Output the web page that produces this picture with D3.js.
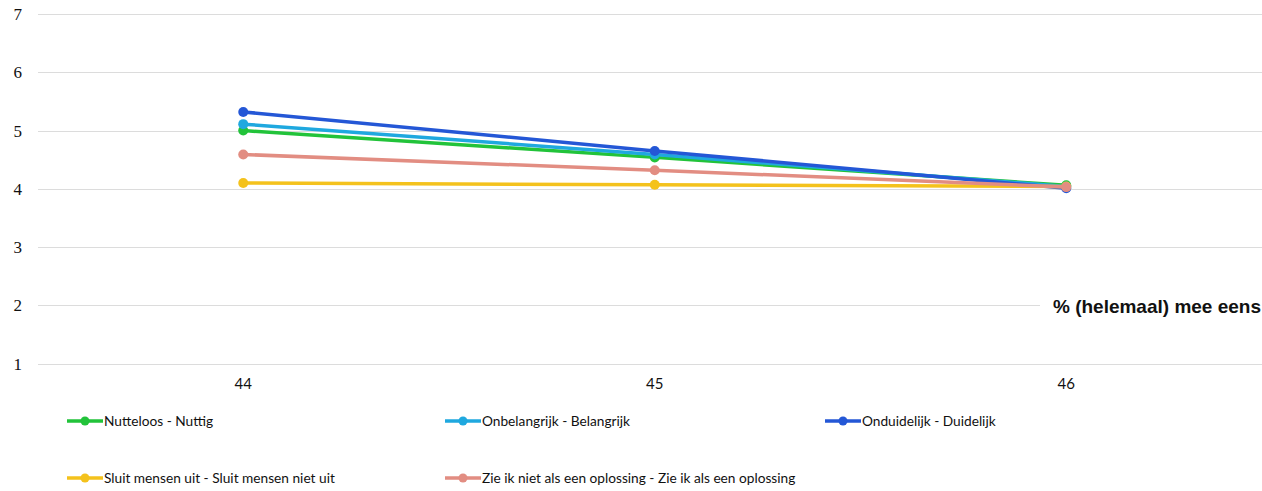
<!DOCTYPE html>
<html>
<head>
<meta charset="utf-8">
<script src="https://cdn.jsdelivr.net/npm/d3@7"></script>
<style>
  html, body { margin: 0; padding: 0; background: #fff; }
  svg { display: block; }
</style>
</head>
<body>
<svg id="chart" width="1262" height="491"></svg>
<script>
// ---- data ----
const categories = ["44", "45", "46"];
const yTicks = [1, 2, 3, 4, 5, 6, 7];
const seriesNames = [
  "Nutteloos - Nuttig",
  "Onbelangrijk - Belangrijk",
  "Onduidelijk - Duidelijk",
  "Sluit mensen uit - Sluit mensen niet uit",
  "Zie ik niet als een oplossing - Zie ik als een oplossing"
];
const nutteloos   = [5.00, 4.54, 4.06];
const onbelangrijk = [5.11, 4.59, 4.04];
const onduidelijk = [5.32, 4.65, 4.01];
const sluitUit    = [4.10, 4.07, 4.04];
const zieIk       = [4.59, 4.32, 4.03];
const seriesColors = ["#22c33a", "#1fa8df", "#2457d6", "#f4c21c", "#e28d82"];
const axisTitle = "% (helemaal) mee eens";

const seriesValues = [nutteloos, onbelangrijk, onduidelijk, sluitUit, zieIk];

// ---- layout ----
const svg = d3.select("#chart");
const W = 1262;
const plotLeft = 37.5, plotRight = 1272;
const x = d3.scalePoint().domain(categories).range([plotLeft, plotRight]).padding(0.5);
const y = d3.scaleLinear().domain([1, 7]).range([363.7, 14]);

// gridlines
svg.append("g").selectAll("line").data(yTicks).join("line")
  .attr("x1", 38).attr("x2", W)
  .attr("y1", d => Math.round(y(d)) + 0.5).attr("y2", d => Math.round(y(d)) + 0.5)
  .attr("stroke", "#dcdcdc").attr("stroke-width", 1.2);

// y tick labels
svg.append("g").selectAll("text").data(yTicks).join("text")
  .attr("x", 22).attr("y", d => y(d)).attr("dy", "0.35em")
  .attr("text-anchor", "end")
  .attr("font-family", "'Liberation Serif', 'DejaVu Serif', serif")
  .attr("font-size", 17).attr("fill", "#111")
  .text(d => d);

// x tick labels
svg.append("g").selectAll("text").data(categories).join("text")
  .attr("x", d => x(d)).attr("y", 389)
  .attr("text-anchor", "middle")
  .attr("font-family", "Lato, 'Open Sans', sans-serif")
  .attr("font-size", 15).attr("fill", "#111")
  .text(d => d);

// axis title with white background
const titleG = svg.append("g");
titleG.append("rect").attr("x", 1040).attr("y", 294).attr("width", 222).attr("height", 24).attr("fill", "#fff");
titleG.append("text")
  .attr("x", 1261).attr("y", 313)
  .attr("text-anchor", "end")
  .attr("font-family", "'Liberation Sans', Arial, sans-serif")
  .attr("font-weight", "bold")
  .attr("font-size", 19).attr("fill", "#111")
  .text(axisTitle);

// lines
const line = d3.line().x((d, i) => x(categories[i])).y(d => y(d));
const seriesG = svg.append("g").selectAll("g").data(seriesValues).join("g");
seriesG.append("path")
  .attr("d", d => line(d))
  .attr("fill", "none")
  .attr("stroke", (d, i) => seriesColors[i])
  .attr("stroke-width", 3.5)
  .attr("stroke-linejoin", "round");
seriesG.each(function(vals, si) {
  d3.select(this).selectAll("circle").data(vals).join("circle")
    .attr("cx", (d, i) => x(categories[i]))
    .attr("cy", d => y(d))
    .attr("r", 5)
    .attr("fill", seriesColors[si]);
});

// legend
const legendPos = [
  {x: 67, y: 421}, {x: 445, y: 421}, {x: 825, y: 421},
  {x: 67, y: 478}, {x: 445, y: 478}
];
const leg = svg.append("g").selectAll("g").data(seriesNames).join("g")
  .attr("transform", (d, i) => `translate(${legendPos[i].x},${legendPos[i].y})`);
leg.append("line").attr("x1", 0).attr("x2", 36).attr("y1", 0).attr("y2", 0)
  .attr("stroke", (d, i) => seriesColors[i]).attr("stroke-width", 3.5);
leg.append("circle").attr("cx", 18).attr("cy", 0).attr("r", 4.5)
  .attr("fill", (d, i) => seriesColors[i]);
leg.append("text").attr("x", 37).attr("y", 0).attr("dy", "0.35em")
  .attr("font-family", "Lato, 'Open Sans', sans-serif")
  .attr("font-size", 13.7).attr("fill", "#111")
  .text(d => d);
</script>
</body>
</html>
